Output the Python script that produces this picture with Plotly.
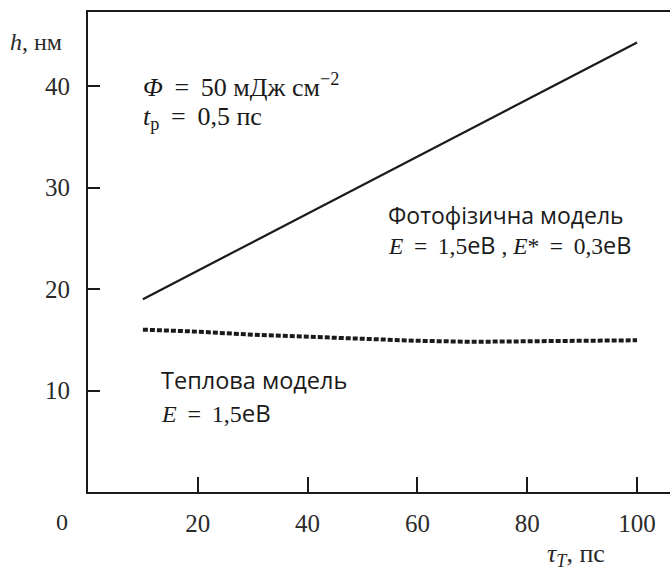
import plotly.graph_objects as go

# Photophysical model: film thickness h vs. thermalisation time
tau_photo = [10, 100]
h_photo = [19.0, 44.3]

# Thermal model
tau_therm = [10, 20, 30, 40, 50, 60, 70, 80, 90, 100]
h_therm = [16.0, 15.8, 15.5, 15.3, 15.1, 14.9, 14.8, 14.85, 14.9, 14.95]

x_ticks = [20, 40, 60, 80, 100]
y_ticks = [10, 20, 30, 40]

SERIF = "Liberation Serif, Times New Roman, serif"
SANS = "Open Sans, DejaVu Sans, sans-serif"
INK = "#1a1a1a"
SP = "\u2009"  # thin space for math-style spacing around relations

fig = go.Figure()
fig.add_trace(go.Scatter(x=tau_photo, y=h_photo, mode="lines",
                         line=dict(color=INK, width=2.2), showlegend=False))
fig.add_trace(go.Scatter(x=tau_therm, y=h_therm, mode="lines",
                         line=dict(color=INK, width=4, dash="5px,2px"),
                         showlegend=False))


def sans(t):
    return f'<span style="font-family:{SANS}">{t}</span>'


EQ = f" {SP}={SP} "

# labels inside the plotting area (data coordinates)
inside = [
    (9.7, 40.1, f"<i>Φ</i>{EQ}50 мДж см<sup>−2</sup>", SERIF, 26),
    (9.7, 36.9, f"<i>t</i><sub>p</sub>{EQ}0,5 пс", SERIF, 26),
    (54.3, 27.3, "Фотофізична модель", SANS, 23),
    (54.3, 24.3, f"<i>E</i>{EQ}1,5" + sans("eB") + f" , <i>E</i>*{EQ}0,3" + sans("eB"), SERIF, 23.5),
    (13.0, 11.0, "Теплова модель", SANS, 23.5),
    (13.0, 7.85, f"<i>E</i>{EQ}1,5" + sans("eB"), SERIF, 24),
]
for x, y, t, fam, sz in inside:
    fig.add_annotation(x=x, y=y, text=t, showarrow=False, xanchor="left",
                       yanchor="middle", font=dict(family=fam, size=sz, color=INK))

# axis captions and origin label (paper coordinates, outside the frame)
outside = [
    (-0.1375, 0.9375, "<i>h</i>, нм", "left", 24),
    (0.785, -0.131, "<i>τ</i><sub><i>T</i></sub>, пс", "left", 26),
    (-0.0447, -0.0625, "0", "center", 24),
]
for x, y, t, anc, sz in outside:
    fig.add_annotation(x=x, y=y, xref="paper", yref="paper", text=t,
                       showarrow=False, xanchor=anc, yanchor="middle",
                       font=dict(family=SERIF, size=sz, color="#2a2a2a"))

fig.update_xaxes(range=[0, 106], tickvals=x_ticks, ticks="inside", ticklen=15,
                 tickwidth=1.5, tickcolor=INK, showline=True, linewidth=2,
                 linecolor=INK, mirror=True, showgrid=False, zeroline=False,
                 ticklabelstandoff=8,
                 tickfont=dict(family=SERIF, size=25, color="#2a2a2a"))
fig.update_yaxes(range=[0, 47.3], tickvals=y_ticks, ticks="inside", ticklen=12,
                 tickwidth=1.5, tickcolor=INK, showline=True, linewidth=2,
                 linecolor=INK, showgrid=False, zeroline=False,
                 ticklabelstandoff=11,
                 tickfont=dict(family=SERIF, size=25, color="#2a2a2a"))

fig.update_layout(width=670, height=570, margin=dict(l=88, r=0, t=12, b=78),
                  plot_bgcolor="white", paper_bgcolor="white")

fig.write_html("out.html")
